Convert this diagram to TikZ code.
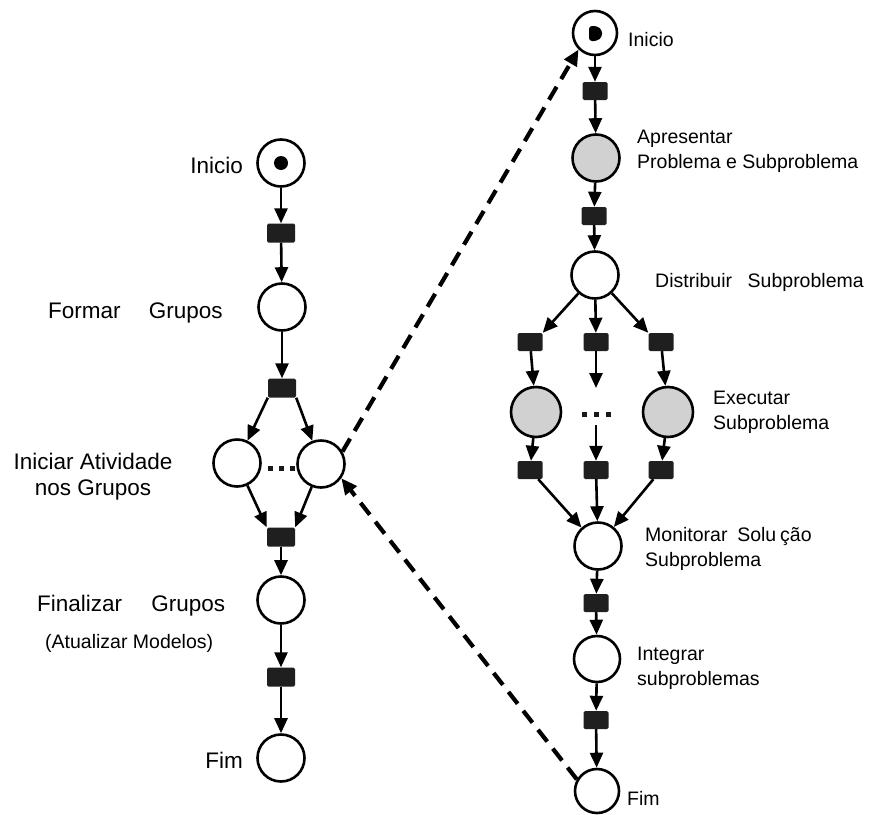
\documentclass[tikz,border=0pt]{standalone}
\usepackage{fontspec}
\setmainfont{Liberation Sans}
\usetikzlibrary{arrows.meta}
\begin{document}
\begin{tikzpicture}[x=1pt,y=-1pt,
  place/.style={circle,draw=black,line width=2.6pt,fill=white,minimum size=47pt,inner sep=0pt},
  gplace/.style={place,fill=black!18},
  trans/.style={rectangle,fill=black!88,minimum width=28pt,minimum height=19pt,inner sep=0pt,rounded corners=1.5pt},
  rtrans/.style={trans,minimum width=25pt,minimum height=18pt},
  arr/.style={-{Triangle[length=15pt,width=13pt]},line width=2.6pt},
  darr/.style={-{Triangle[length=16pt,width=14pt]},line width=4.2pt,dash pattern=on 15pt off 9pt},
  dot/.style={fill=black!90},
  big/.style={font=\fontsize{22.5}{26}\selectfont},
  small/.style={font=\fontsize{19.5}{25}\selectfont},
  lab/.style={inner sep=0pt}]
\useasboundingbox (0,0) rectangle (872,814);
% ---------- left net ----------
\node[place] (L1) at (281,163) {};
\fill (281,163) circle (7pt);
\node[trans] (LT1) at (281,233) {};
\node[place] (L2) at (282,307) {};
\node[trans] (LT2) at (282,388) {};
\node[place] (L3a) at (237,463) {};
\node[place] (L3b) at (321,464) {};
\node[trans] (LT3) at (281,537) {};
\node[place] (L4) at (281,600) {};
\node[trans] (LT4) at (281,677) {};
\node[place] (L5) at (281,758) {};
\foreach \x in {270,281,292} \fill[dot] (\x-2.5,465.5) rectangle (\x+2.5,470.5);
\draw[arr] (L1) -- (LT1);
\draw[arr] (LT1) -- (L2);
\draw[arr] (L2) -- (LT2);
\draw[arr] (LT2.south west) -- (L3a);
\draw[arr] (LT2.south east) -- (L3b);
\draw[arr] (L3a) -- (LT3.north west);
\draw[arr] (L3b) -- (LT3.north east);
\draw[arr] (LT3) -- (L4);
\draw[arr] (L4) -- (LT4);
\draw[arr] (LT4) -- (L5);
% left labels
\node[lab,big,anchor=east] (tL1) at (243,165) {Inicio};
\node[lab,big,anchor=west] (tL2) at (48,313) {Formar\hspace{1.25em}Grupos};
\node[lab,big,align=center] (tL3) at (93,477) {Iniciar Atividade\\nos Grupos};
\node[lab,big,anchor=west] (tL4) at (37,606) {Finalizar\hspace{1.3em}Grupos};
\node[lab,small,anchor=west] (tL4b) at (45,643) {(Atualizar Modelos)};
\node[lab,big,anchor=east] (tL5) at (243,760) {Fim};
% ---------- right net ----------
\node[place,minimum size=44pt] (R1) at (595,33) {};
\fill[rounded corners=3pt] (589,26) -- (597,26) -- (602,30) -- (602,37) -- (597,41) -- (589,41) -- cycle;
\node[rtrans] (RT1) at (595,91) {};
\node[gplace] (R2) at (596,158) {};
\node[rtrans] (RT2) at (594,216) {};
\node[place] (R3) at (595,275) {};
\node[rtrans] (RTa) at (530,342) {};
\node[rtrans] (RTb) at (596,342) {};
\node[rtrans] (RTc) at (661,342) {};
\node[gplace,minimum size=50pt] (R4a) at (536,412) {};
\node[gplace,minimum size=50pt] (R4c) at (668,412) {};
\coordinate (Mend) at (596,388);
\coordinate (Mstart) at (596,425);
\foreach \x in {584,596,608} \fill[dot] (\x-2.5,411.5) rectangle (\x+2.5,416.5);
\node[rtrans] (RBa) at (530,470) {};
\node[rtrans] (RBb) at (596,470) {};
\node[rtrans] (RBc) at (661,470) {};
\node[place] (R5) at (598,546) {};
\node[rtrans] (RT5) at (596,603) {};
\node[place,minimum size=46pt] (R6) at (597,659) {};
\node[rtrans] (RT6) at (596,720) {};
\node[place,minimum size=44pt] (R7) at (597,791) {};
\draw[arr] (R1) -- (RT1);
\draw[arr] (RT1) -- (R2);
\draw[arr] (R2) -- (RT2);
\draw[arr] (RT2) -- (R3);
\draw[arr] (R3) -- (RTa.north east);
\draw[arr] (R3) -- (RTb);
\draw[arr] (R3) -- (RTc.north west);
\draw[arr] (RTa) -- (R4a);
\draw[arr] (RTb) -- (Mend);
\draw[arr] (RTc) -- (R4c);
\draw[arr] (R4a) -- (RBa);
\draw[arr] (Mstart) -- (RBb);
\draw[arr] (R4c) -- (RBc);
\draw[arr] (RBa) -- (R5);
\draw[arr] (RBb) -- (R5);
\draw[arr] (RBc) -- (R5);
\draw[arr] (R5) -- (RT5);
\draw[arr] (RT5) -- (R6);
\draw[arr] (R6) -- (RT6);
\draw[arr] (RT6) -- (R7);
% right labels
\node[lab,small,anchor=west] (tR1) at (628,40) {Inicio};
\node[lab,small,anchor=west,align=left] (tR2) at (637,151) {Apresentar\\Problema e Subproblema};
\node[lab,small,anchor=west] (tR3) at (655,282) {Distribuir\hspace{0.8em}Subproblema};
\node[lab,small,anchor=west,align=left] (tR4) at (713,412) {Executar\\Subproblema};
\node[lab,small,anchor=west,align=left] (tR5) at (645,549) {Monitorar\hspace{0.5em}Solu\hspace{0.2em}ção\\Subproblema};
\node[lab,small,anchor=west,align=left] (tR6) at (637,668) {Integrar\\subproblemas};
\node[lab,small,anchor=west] (tR7) at (627,798) {Fim};
% ---------- dashed links ----------
\draw[darr] (L3b.30) -- (R1.225);
\draw[darr] (R7.150) -- (L3b.-35);
\end{tikzpicture}
\end{document}
